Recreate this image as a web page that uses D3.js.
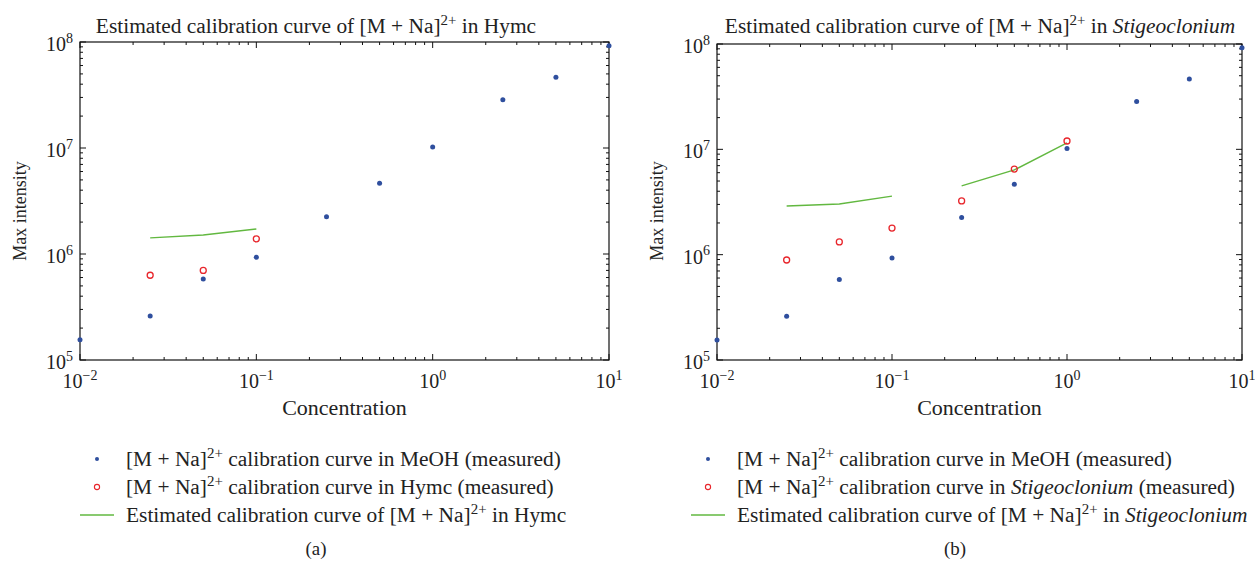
<!DOCTYPE html>
<html>
<head>
<meta charset="utf-8">
<script src="https://cdn.jsdelivr.net/npm/d3@7"></script>
<style>
  html, body { margin: 0; padding: 0; background: #fff; }
  svg { display: block; }
  text { font-family: "Liberation Serif", "DejaVu Serif", serif; fill: #222; }
</style>
</head>
<body>
<svg id="chart" width="1255" height="563"></svg>
<script>
// ---------------- data ----------------
const concentrations = [0.01, 0.025, 0.05, 0.1, 0.25, 0.5, 1, 2.5, 5, 10];
const meohMeasured   = [1.55e5, 2.6e5, 5.8e5, 9.3e5, 2.25e6, 4.65e6, 1.02e7, 2.85e7, 4.65e7, 9.2e7];

const hymcConc       = [0.025, 0.05, 0.1];
const hymcMeasured   = [6.3e5, 7.0e5, 1.39e6];
const hymcEstimated  = [1.42e6, 1.51e6, 1.72e6];

const stigConc       = [0.025, 0.05, 0.1, 0.25, 0.5, 1];
const stigMeasured   = [8.9e5, 1.32e6, 1.79e6, 3.24e6, 6.5e6, 1.2e7];
const stigEstConcA   = [0.025, 0.05, 0.1];
const stigEstimatedA = [2.9e6, 3.03e6, 3.6e6];
const stigEstConcB   = [0.25, 0.5, 1];
const stigEstimatedB = [4.5e6, 6.37e6, 1.15e7];

const xTickExps = [-2, -1, 0, 1];
const yTickExps = [5, 6, 7, 8];

const BLUE = "#2f4f9e", RED = "#e8262c", GREEN = "#62b840";

const svg = d3.select("#chart");

// rich text helper: segments [{t, sup, it}]
function rich(g, x, y, segs, size, anchor, sx) {
  const t = g.append("text").attr("x", 0).attr("y", 0)
    .attr("transform", `translate(${x},${y}) scale(${sx || 1},1)`)
    .attr("font-size", size).attr("text-anchor", anchor || "start");
  let shifted = false;
  segs.forEach(s => {
    const sp = t.append("tspan").text(s.t);
    if (s.it) sp.attr("font-style", "italic");
    if (s.sup && !shifted) { sp.attr("dy", -size * 0.42).attr("font-size", size * 0.7); shifted = true; }
    else if (s.sup) { sp.attr("font-size", size * 0.7); }
    else if (!s.sup && shifted) { sp.attr("dy", size * 0.42); shifted = false; }
  });
  return t;
}

function panel(cfg) {
  const g = svg.append("g");
  const x = d3.scaleLog().domain([0.01, 10]).range([cfg.x0, cfg.x1]);
  const y = d3.scaleLog().domain([1e5, 1e8]).range([cfg.y1, cfg.y0]);

  // frame
  g.append("rect").attr("x", cfg.x0).attr("y", cfg.y0)
    .attr("width", cfg.x1 - cfg.x0).attr("height", cfg.y1 - cfg.y0)
    .attr("fill", "none").attr("stroke", "#111").attr("stroke-width", 1.2);

  // ticks (inside, mirrored)
  const xt = [], yt = [];
  for (let e = -2; e < 1; e++) for (let m = 1; m < 10; m++) xt.push({v: m * Math.pow(10, e), major: m === 1});
  xt.push({v: 10, major: true});
  for (let e = 5; e < 8; e++) for (let m = 1; m < 10; m++) yt.push({v: m * Math.pow(10, e), major: m === 1});
  yt.push({v: 1e8, major: true});
  const tk = g.append("g").attr("stroke", "#111").attr("stroke-width", 1);
  xt.forEach(d => {
    const L = d.major ? 6 : 3, px = x(d.v);
    tk.append("line").attr("x1", px).attr("x2", px).attr("y1", cfg.y1).attr("y2", cfg.y1 - L);
    tk.append("line").attr("x1", px).attr("x2", px).attr("y1", cfg.y0).attr("y2", cfg.y0 + L);
  });
  yt.forEach(d => {
    const L = d.major ? 6 : 3, py = y(d.v);
    tk.append("line").attr("x1", cfg.x0).attr("x2", cfg.x0 + L).attr("y1", py).attr("y2", py);
    tk.append("line").attr("x1", cfg.x1).attr("x2", cfg.x1 - L).attr("y1", py).attr("y2", py);
  });

  // tick labels
  xTickExps.forEach(e => {
    rich(g, x(Math.pow(10, e)), cfg.y1 + 28, [{t: "10"}, {t: e < 0 ? "\u2212" + (-e) : String(e), sup: true}], 20, "middle");
  });
  yTickExps.forEach(e => {
    rich(g, cfg.x0 - 7, y(Math.pow(10, e)) + 9, [{t: "10"}, {t: String(e), sup: true}], 20, "end");
  });

  // axis titles
  rich(g, (cfg.x0 + cfg.x1) / 2, 415, [{t: "Concentration"}], 20, "middle", 1.1);
  g.append("text").attr("transform", `translate(${cfg.x0 - 54},211) rotate(-90)`)
    .attr("text-anchor", "middle").attr("font-size", 18).text("Max intensity");

  // title
  rich(g, cfg.titleX, 33, cfg.title, 20, "middle", 1.07);

  // estimated lines
  const line = d3.line().x(d => x(d[0])).y(d => y(d[1]));
  cfg.lines.forEach(l => {
    g.append("path").datum(l.c.map((c, i) => [c, l.v[i]]))
      .attr("d", line).attr("fill", "none").attr("stroke", GREEN).attr("stroke-width", 1.4);
  });

  // measured in MeOH (blue dots)
  g.selectAll(null).data(concentrations.map((c, i) => [c, meohMeasured[i]])).enter()
    .append("circle").attr("cx", d => x(d[0])).attr("cy", d => y(d[1])).attr("r", 2.5).attr("fill", BLUE);

  // measured in matrix (red open circles)
  g.selectAll(null).data(cfg.redC.map((c, i) => [c, cfg.redV[i]])).enter()
    .append("circle").attr("cx", d => x(d[0])).attr("cy", d => y(d[1])).attr("r", 3)
    .attr("fill", "none").attr("stroke", RED).attr("stroke-width", 1.3);

  // legend
  const lg = g.append("g");
  const rows = [466, 494, 522];
  lg.append("circle").attr("cx", cfg.legX + 17).attr("cy", rows[0] - 7).attr("r", 2).attr("fill", BLUE);
  lg.append("circle").attr("cx", cfg.legX + 17).attr("cy", rows[1] - 7).attr("r", 2.6)
    .attr("fill", "none").attr("stroke", RED).attr("stroke-width", 1.1);
  lg.append("line").attr("x1", cfg.legX).attr("x2", cfg.legX + 34).attr("y1", rows[2] - 7).attr("y2", rows[2] - 7)
    .attr("stroke", GREEN).attr("stroke-width", 1.3);
  cfg.legend.forEach((segs, i) => rich(lg, cfg.legX + 46, rows[i], segs, 20, "start", 1.07));

  rich(g, cfg.capX, 555, [{t: cfg.caption}], 18, "middle", 1.05);
}

const MNa = [{t: "[M + Na]"}, {t: "2+", sup: true}];

panel({
  x0: 80, x1: 609, y0: 42, y1: 360,
  titleX: 316,
  title: [{t: "Estimated calibration curve of [M + Na]"}, {t: "2+", sup: true}, {t: " in Hymc"}],
  lines: [{c: hymcConc, v: hymcEstimated}],
  redC: hymcConc, redV: hymcMeasured,
  legX: 80,
  legend: [
    [...MNa, {t: " calibration curve in MeOH (measured)"}],
    [...MNa, {t: " calibration curve in Hymc (measured)"}],
    [{t: "Estimated calibration curve of [M + Na]"}, {t: "2+", sup: true}, {t: " in Hymc"}]
  ],
  capX: 316, caption: "(a)"
});

panel({
  x0: 717, x1: 1242, y0: 44, y1: 360,
  titleX: 980,
  title: [{t: "Estimated calibration curve of [M + Na]"}, {t: "2+", sup: true}, {t: " in "}, {t: "Stigeoclonium", it: true}],
  lines: [{c: stigEstConcA, v: stigEstimatedA}, {c: stigEstConcB, v: stigEstimatedB}],
  redC: stigConc, redV: stigMeasured,
  legX: 691,
  legend: [
    [...MNa, {t: " calibration curve in MeOH (measured)"}],
    [...MNa, {t: " calibration curve in "}, {t: "Stigeoclonium", it: true}, {t: " (measured)"}],
    [{t: "Estimated calibration curve of [M + Na]"}, {t: "2+", sup: true}, {t: " in "}, {t: "Stigeoclonium", it: true}]
  ],
  capX: 955, caption: "(b)"
});
</script>
</body>
</html>
